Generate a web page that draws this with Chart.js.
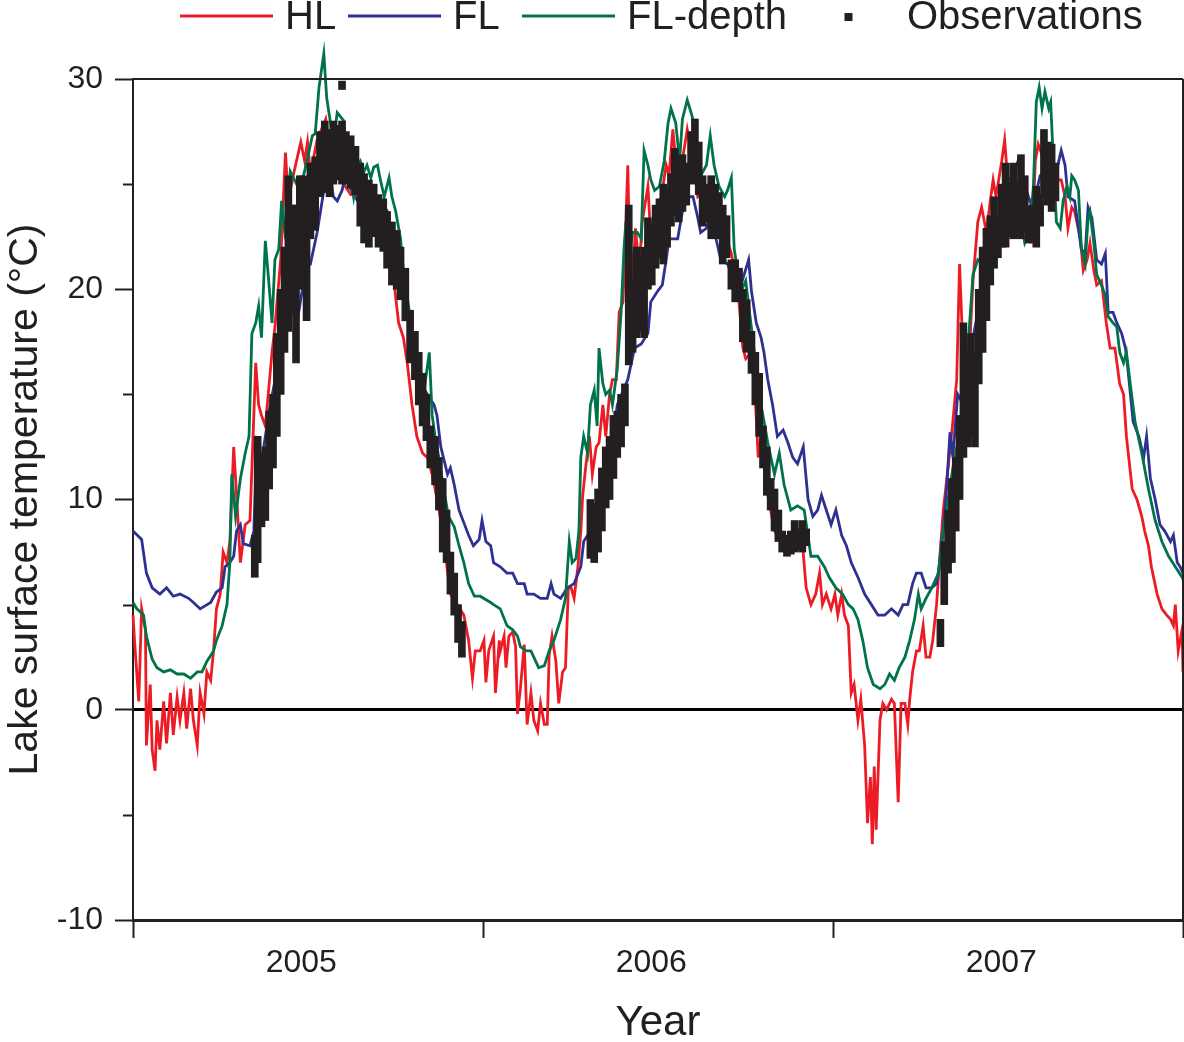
<!DOCTYPE html>
<html>
<head>
<meta charset="utf-8">
<script src="https://cdn.jsdelivr.net/npm/chart.js@4.4.1/dist/chart.umd.min.js"></script>
<style>
  html, body { margin: 0; padding: 0; background: #ffffff; }
  canvas { display: block; }
</style>
</head>
<body>
<canvas id="c" width="1184" height="1042"></canvas>
<script>
// ---------------- DATA (day 0 = 1 Jan 2005) ----------------
const yearBounds = [0, 365, 730, 1095];
const yearLabels = ['2005', '2006', '2007'];
const seriesNames = ['HL', 'FL', 'FL-depth', 'Observations'];

const hlDays = [0,2,6,9,13,14,18,20,23,25,28,32,35,39,42,46,49,53,56,60,63,67,70,74,77,81,84,87,91,94,98,101,105,108,112,117,122,128,131,134,138,141,145,148,154,159,162,168,175,179,182,185,192,201,206,213,220,227,234,244,255,263,268,272,277,282,286,291,296,302,307,312,315,321,326,331,338,345,350,354,357,362,366,368,371,373,376,378,382,383,387,389,392,396,399,401,404,408,411,415,418,422,425,429,432,434,437,441,444,448,451,454,457,460,464,467,469,472,476,479,483,486,490,493,497,500,504,507,511,514,516,517,521,524,528,531,537,540,544,551,556,559,563,566,571,578,584,589,596,603,610,617,624,631,636,639,643,648,652,655,658,662,669,676,683,690,697,702,707,712,716,719,723,728,732,735,739,742,746,749,752,756,759,763,766,769,771,773,775,779,782,786,791,794,798,801,805,808,810,813,817,820,824,827,831,834,838,841,845,850,855,859,862,866,869,873,876,881,885,890,894,897,900,906,909,913,920,927,934,939,941,944,948,951,955,961,968,972,975,979,982,988,991,995,998,1002,1005,1010,1015,1019,1024,1029,1033,1036,1042,1047,1052,1055,1059,1062,1068,1073,1078,1082,1085,1087,1090,1094,1095];
const hlTemp = [4.5,3.0,0.4,4.8,3.8,-1.7,1.2,-1.9,-2.9,-0.5,-1.9,0.4,-1.6,0.8,-1.2,0.6,-0.5,0.8,-0.9,1.0,-0.5,-1.7,0.8,-0.2,1.8,1.4,2.8,4.8,5.5,7.5,7.0,8.0,12.5,10.2,7.0,8.8,9.0,16.5,14.5,14.0,13.5,15.0,17.0,18.2,21.4,26.5,24.2,25.6,27.0,26.1,27.0,25.5,27.1,28.1,26.5,25.5,25.0,24.5,24.5,23.5,23.0,22.5,21.4,20.4,18.4,17.7,16.5,14.5,13.0,12.2,12.0,11.2,10.5,9.0,7.3,5.5,5.0,4.5,3.3,1.5,2.8,2.8,3.3,1.3,2.8,3.1,3.5,0.8,3.3,2.8,3.5,2.0,3.5,3.7,3.0,-0.2,1.0,3.1,-0.7,0.8,-0.5,-1.0,0.3,-0.7,-0.7,2.6,3.5,2.3,0.3,1.8,2.0,5.8,5.8,5.3,6.8,8.5,10.2,11.5,13.0,11.2,12.5,12.7,14.5,13.0,15.0,15.7,15.7,18.9,19.4,23.2,25.9,23.7,20.4,22.9,20.9,23.2,24.9,22.4,23.7,24.4,25.9,25.4,27.6,26.1,25.6,27.6,26.1,24.4,24.7,24.7,23.7,22.7,21.7,19.9,17.2,16.7,16.9,15.7,12.0,13.0,12.0,10.2,8.5,8.0,8.0,8.0,8.5,5.8,5.0,5.5,6.5,5.0,5.5,4.8,5.5,4.5,5.5,4.5,4.0,0.8,1.2,-0.5,0.5,-1.7,-5.4,-3.2,-6.4,-2.7,-5.7,-0.5,0.3,0.0,0.5,0.3,-4.4,0.3,0.3,-0.7,0.5,1.8,2.8,2.8,4.0,2.5,2.5,3.3,5.0,7.0,9.5,11.5,13.7,15.7,21.2,16.5,15.5,17.7,20.4,23.2,23.9,22.7,24.2,25.2,24.4,26.1,27.1,24.7,25.4,23.7,23.9,23.9,26.1,26.9,26.4,26.6,25.9,25.2,25.2,24.4,22.9,23.9,23.7,22.4,20.9,21.4,22.2,20.9,20.2,20.4,18.4,17.2,17.2,15.5,15.0,13.0,10.5,10.0,9.2,8.5,7.8,6.8,5.5,4.8,4.5,4.3,4.0,5.0,2.8,3.8,1.8];

const flDays = [0,9,14,20,28,35,42,49,58,63,70,81,87,93,96,101,105,108,112,115,122,126,129,133,143,154,164,171,181,185,192,199,206,209,213,218,221,230,244,256,265,272,279,286,293,300,307,314,317,321,328,331,335,340,345,350,355,361,364,368,373,376,383,390,396,401,408,411,418,425,432,436,439,446,453,460,467,470,477,484,491,498,505,516,523,530,537,540,547,552,556,559,568,573,578,584,589,592,598,603,608,613,620,627,634,642,645,650,655,658,662,667,672,678,683,688,693,699,704,709,714,718,723,728,733,739,744,749,756,763,770,777,784,791,798,803,808,813,817,822,827,833,838,843,848,852,855,860,866,871,876,881,888,895,902,909,916,923,930,937,941,946,953,961,968,972,975,982,989,993,996,1000,1005,1010,1014,1017,1022,1026,1031,1035,1038,1043,1049,1054,1057,1061,1066,1071,1076,1082,1085,1089,1092,1095];
const flTemp = [8.5,8.1,6.5,5.8,5.5,5.8,5.4,5.5,5.3,5.1,4.8,5.1,5.6,5.8,6.8,7.0,7.3,8.5,8.8,7.9,7.8,8.5,12.5,11.5,14.5,17.0,19.2,18.4,21.2,21.2,22.7,24.7,25.3,24.4,24.2,24.7,25.3,24.5,23.5,23.2,23.7,22.4,20.9,18.9,16.7,15.5,15.0,14.5,14.0,12.5,11.2,11.5,10.7,9.5,8.9,8.3,7.8,8.1,9.0,8.0,7.8,7.0,6.8,6.5,6.5,6.0,6.0,5.5,5.5,5.3,5.3,6.0,5.5,5.3,5.8,6.0,6.8,8.0,8.5,10.0,11.0,12.0,14.5,15.7,17.2,17.4,17.9,19.4,19.9,20.2,21.4,22.4,22.4,23.7,24.4,24.4,23.4,22.7,22.9,23.7,22.4,21.4,21.2,20.4,20.2,21.4,19.9,18.4,17.7,17.0,15.7,14.5,13.0,13.3,12.7,12.0,11.7,12.5,10.0,9.2,9.5,10.2,9.5,8.8,9.5,8.3,7.8,7.0,6.3,5.5,5.0,4.5,4.5,4.8,4.5,5.0,5.0,6.0,6.5,6.5,5.8,5.8,6.0,7.5,10.2,13.2,12.0,15.0,14.5,17.0,17.7,18.9,19.7,21.2,22.4,24.4,25.2,26.1,24.9,24.0,24.4,25.4,25.6,25.2,26.6,25.9,24.4,24.2,21.9,21.7,23.9,23.4,21.4,21.2,21.7,18.9,18.9,18.4,17.9,17.2,16.0,13.7,13.0,12.0,13.0,11.0,10.0,8.8,8.5,8.0,8.3,7.0,6.8,6.5];

const fldDays = [0,4,9,11,14,20,25,32,39,46,53,60,67,72,77,84,87,93,98,101,103,107,112,117,121,124,128,131,134,138,141,145,148,152,155,159,164,174,181,187,190,194,199,202,206,209,213,220,223,227,230,234,237,241,244,248,251,255,258,262,267,270,274,279,282,289,296,303,309,312,315,319,324,329,335,340,345,350,356,362,373,376,383,390,396,401,404,410,415,420,423,429,434,439,446,451,455,458,462,465,467,470,474,477,481,484,486,490,493,497,500,505,509,512,514,517,521,526,530,533,537,540,544,549,554,558,561,566,570,573,578,582,585,589,592,598,602,606,611,617,620,624,627,634,639,643,648,655,662,669,674,679,686,693,700,707,714,721,726,733,740,746,751,756,761,766,772,779,784,789,794,799,805,810,815,819,822,827,833,840,843,850,855,860,866,871,876,881,887,892,899,906,909,916,923,930,935,939,942,945,948,951,955,957,960,963,967,970,974,977,979,982,986,989,993,996,998,1002,1005,1010,1014,1017,1022,1026,1029,1033,1036,1040,1045,1052,1059,1066,1073,1080,1087,1094,1095];
const fldTemp = [5.1,4.8,4.6,4.5,3.5,2.4,2.0,1.8,1.9,1.7,1.7,1.5,1.8,1.8,2.3,2.8,3.3,4.0,5.0,7.0,11.2,9.2,11.0,12.2,13.0,17.9,18.4,19.2,17.7,22.3,20.7,18.4,21.4,21.9,24.2,22.4,25.6,24.7,26.0,27.3,27.4,29.6,31.2,29.1,27.9,27.1,28.4,28.0,25.9,25.2,24.4,25.9,26.1,25.6,25.9,25.3,25.8,25.9,25.2,24.4,25.3,24.4,23.7,22.4,20.9,18.7,16.2,15.0,17.0,14.0,13.0,12.0,10.5,9.2,8.7,7.8,7.0,6.0,5.4,5.4,5.1,5.0,4.8,4.0,3.8,3.5,3.0,2.8,2.8,2.3,2.0,2.1,2.8,3.3,4.3,5.3,8.0,7.0,7.2,8.5,12.0,13.0,12.2,14.5,15.2,13.5,17.2,15.5,15.0,15.2,14.5,16.2,18.9,21.9,23.2,21.2,22.7,22.7,22.4,26.6,25.9,25.2,24.7,24.9,26.1,27.9,28.6,27.9,26.1,28.1,29.0,28.4,27.9,26.1,25.4,25.9,27.3,25.9,24.9,24.4,24.7,25.3,21.9,19.9,20.4,18.9,17.0,14.5,12.7,11.2,12.2,10.7,9.5,9.7,9.5,7.3,7.3,6.8,6.3,5.8,5.5,5.0,4.8,4.3,3.3,2.0,1.2,1.0,1.2,1.7,1.4,2.0,2.5,3.3,4.3,5.5,4.8,5.3,5.8,6.5,8.0,10.0,11.5,12.7,14.7,17.4,20.7,21.4,21.2,21.9,22.7,23.7,25.4,25.2,24.0,22.2,22.7,24.9,28.9,29.6,28.6,29.4,28.6,28.9,25.9,23.2,22.9,24.2,24.9,24.4,25.4,25.2,24.7,21.9,21.2,23.4,23.7,22.2,20.7,20.2,19.7,18.7,18.4,18.2,17.0,16.5,17.0,15.5,13.7,12.2,10.5,9.0,8.0,7.3,6.8,6.3,6.2];

const obsDays = [127,130,134,138,142,146,150,154,158,162,166,170,174,178,181,185,190,195,200,205,209,213,218,218,222,227,232,237,241,246,251,256,261,265,270,275,279,284,289,294,298,302,306,310,315,319,323,327,331,335,339,343,
  477,481,485,489,493,497,501,505,509,513,517,521,525,529,533,537,541,545,549,553,557,561,565,569,573,577,582,586,590,594,598,603,607,611,615,619,624,628,632,636,640,645,649,653,657,661,665,669,673,677,682,686,690,694,698,702,
  842,846,850,854,858,862,866,870,874,878,882,886,890,894,898,902,906,910,914,918,922,926,930,934,938,942,946,950,954,958,962];
const obsLow = [6.3,7.0,8.7,9.0,10.5,11.5,13.0,15.0,17.0,18.0,19.0,16.5,20.0,20.4,18.5,22.4,22.8,24.4,24.6,24.4,25.0,25.2,25.0,29.5,25.0,24.8,24.5,23.0,22.2,22.0,22.5,22.0,21.8,21.0,20.2,20.0,19.5,18.5,16.5,15.7,14.5,13.5,12.8,11.5,10.7,9.5,7.5,7.0,5.5,4.5,3.2,2.5,
  7.2,7.0,7.5,8.5,9.6,10.0,11.0,12.0,12.5,13.5,16.4,17.0,17.7,18.0,17.7,20.0,20.2,21.0,21.5,21.2,22.0,23.0,23.5,23.2,23.7,24.0,25.0,25.2,24.5,23.0,23.2,22.4,22.8,22.4,21.2,21.5,20.0,19.4,19.5,17.5,17.0,16.0,14.5,13.0,11.5,10.2,9.5,8.5,8.0,7.5,7.3,7.4,7.5,7.6,7.5,7.8,
  3.0,5.0,6.5,7.0,8.5,10.0,12.0,12.5,13.0,12.5,15.5,17.0,18.5,20.2,21.0,21.5,22.0,22.0,22.5,22.4,22.5,22.4,22.7,22.2,22.2,22.0,23.0,24.4,24.0,23.7,24.2];
const obsHigh = [8.3,13.0,12.2,12.5,14.2,15.0,17.9,20.0,22.0,25.4,24.0,24.0,25.4,25.4,25.0,26.0,26.3,27.5,28.0,27.6,28.0,27.8,28.0,29.9,27.5,27.3,26.8,26.0,25.5,25.2,25.0,24.5,24.3,23.7,23.2,22.8,22.0,21.0,19.0,18.0,17.0,16.0,15.0,13.5,13.0,12.0,11.0,9.5,7.5,6.5,5.0,4.2,
  10.0,9.8,10.5,11.5,12.5,13.0,14.0,14.2,15.0,15.5,24.0,20.5,22.0,21.5,22.0,23.4,23.0,24.0,24.3,25.0,24.8,25.5,26.7,26.2,26.4,26.0,27.5,28.1,27.0,25.4,25.0,25.4,25.0,24.6,24.0,23.5,21.4,21.4,21.0,20.0,19.5,18.0,17.0,16.0,13.5,12.5,11.0,10.5,9.5,8.5,8.3,8.5,9.0,8.6,9.0,8.6,
  4.3,8.0,9.5,11.0,12.0,14.0,18.4,17.0,17.9,17.0,20.0,22.0,22.9,23.5,24.4,23.5,25.0,26.0,25.0,26.0,25.0,26.4,25.4,23.9,24.0,24.9,24.5,27.6,27.0,26.9,26.0];

// ---------------- STYLE ----------------
const ink = '#231f20';
const clear = 'rgba(0,0,0,0)';
const fontFamily = '"Liberation Sans", Arial, Helvetica, sans-serif';
const colors = { hl: '#ed1c24', fl: '#2e3192', fld: '#00734a', obs: '#231f20' };
const labelShiftDays = 7; // year labels sit slightly left of mid-year

const pts = (d, v) => d.map((x, i) => ({ x: x, y: v[i] }));
const obsPts = obsDays.map((x, i) => ({ x: x, y: [obsLow[i], obsHigh[i]] }));

// legend drawn in the top band (layout constants only)
const legendPlugin = {
  id: 'topLegend',
  afterDraw(chart) {
    const ctx = chart.ctx;
    const starts = [180, 348, 522, 802];
    const symW = 93, gap = 12, cy = 16;
    ctx.save();
    ctx.font = '40px ' + fontFamily;
    ctx.textBaseline = 'middle';
    ctx.textAlign = 'left';
    const ds = chart.data.datasets;
    const order = [1, 2, 3, 0]; // HL, FL, FL-depth, Observations
    order.forEach((di, k) => {
      const d = ds[di];
      const x0 = starts[k];
      if (d.type === 'bar') {
        ctx.fillStyle = d.backgroundColor;
        ctx.fillRect(x0 + symW / 2 - 4, cy - 3, 8, 8);
      } else {
        ctx.strokeStyle = d.borderColor;
        ctx.lineWidth = 3;
        ctx.beginPath();
        ctx.moveTo(x0, cy);
        ctx.lineTo(x0 + symW, cy);
        ctx.stroke();
      }
      ctx.fillStyle = ink;
      ctx.fillText(d.label, x0 + symW + gap, cy + 2);
    });
    ctx.restore();
  }
};

// frame (top + right) and minor y ticks
const framePlugin = {
  id: 'frame',
  afterDatasetsDraw(chart) {
    const { ctx, chartArea: a, scales } = chart;
    ctx.save();
    ctx.strokeStyle = ink;
    ctx.lineWidth = 2;
    ctx.beginPath();
    ctx.moveTo(a.left, a.top);
    ctx.lineTo(a.right, a.top);
    ctx.moveTo(a.right, a.top);
    ctx.lineTo(a.right, a.bottom);
    ctx.stroke();
    const y = scales.y;
    ctx.beginPath();
    y.ticks.forEach(t => {
      if (t.value % 10 !== 0) {
        const py = Math.round(y.getPixelForValue(t.value)) + 0.5;
        ctx.moveTo(a.left - 10, py);
        ctx.lineTo(a.left, py);
      }
    });
    ctx.stroke();
    ctx.restore();
  }
};

new Chart(document.getElementById('c'), {
  type: 'line',
  data: {
    datasets: [
      { type: 'bar', label: seriesNames[3], data: obsPts, backgroundColor: colors.obs, borderWidth: 0,
        barThickness: 7, grouped: false, order: 0 },
      { label: seriesNames[0], data: pts(hlDays, hlTemp), borderColor: colors.hl, borderWidth: 2.8,
        pointRadius: 0, tension: 0, clip: false, order: 3 },
      { label: seriesNames[1], data: pts(flDays, flTemp), borderColor: colors.fl, borderWidth: 2.8,
        pointRadius: 0, tension: 0, clip: false, order: 2 },
      { label: seriesNames[2], data: pts(fldDays, fldTemp), borderColor: colors.fld, borderWidth: 2.8,
        pointRadius: 0, tension: 0, clip: false, order: 1 }
    ]
  },
  options: {
    responsive: false,
    animation: false,
    layout: { padding: { top: 79, right: 1, left: 0, bottom: 0 } },
    plugins: { legend: { display: false }, tooltip: { enabled: false } },
    scales: {
      x: {
        type: 'linear', min: yearBounds[0], max: yearBounds[yearBounds.length - 1],
        offset: false,
        afterBuildTicks(scale) {
          const t = [];
          yearBounds.forEach((b, i) => {
            t.push({ value: b });
            if (i < yearLabels.length) t.push({ value: (b + yearBounds[i + 1]) / 2 - labelShiftDays });
          });
          scale.ticks = t;
        },
        afterFit(scale) { scale.height = 122; scale.paddingLeft = 0; scale.paddingRight = 0; },
        ticks: {
          autoSkip: false, maxRotation: 0, padding: 6, color: ink,
          font: { family: fontFamily, size: 32 },
          callback: (v, i) => (i % 2 === 1 ? yearLabels[(i - 1) / 2] : '')
        },
        grid: {
          offset: false, drawOnChartArea: false, drawTicks: true, tickLength: 18, tickWidth: 2,
          color: clear,
          tickColor: ctx => (ctx.index % 2 === 0 ? ink : clear)
        },
        border: { display: true, color: ink, width: 3 },
        title: { display: true, text: 'Year', color: ink,
          font: { family: fontFamily, size: 42, lineHeight: 0.8 }, padding: { top: 0, bottom: 2 } }
      },
      y: {
        min: -10, max: 30,
        afterFit(scale) { scale.width = 133; },
        ticks: {
          stepSize: 5, padding: 12, color: ink,
          font: { family: fontFamily, size: 32 },
          callback: v => (v % 10 === 0 ? String(v) : '')
        },
        grid: {
          drawOnChartArea: true, drawTicks: true, tickLength: 18, tickWidth: 2,
          color: ctx => (ctx.tick && ctx.tick.value === 0 ? '#000000' : clear),
          lineWidth: ctx => (ctx.tick && ctx.tick.value === 0 ? 3 : 1),
          tickColor: ctx => (ctx.tick && ctx.tick.value % 10 === 0 ? ink : clear)
        },
        border: { display: true, color: ink, width: 2 },
        title: { display: true, text: 'Lake surface temperature (°C)', color: ink,
          font: { family: fontFamily, size: 41, lineHeight: 0.8 }, padding: { top: 9, bottom: 0 } }
      }
    }
  },
  plugins: [legendPlugin, framePlugin]
});
</script>
</body>
</html>
